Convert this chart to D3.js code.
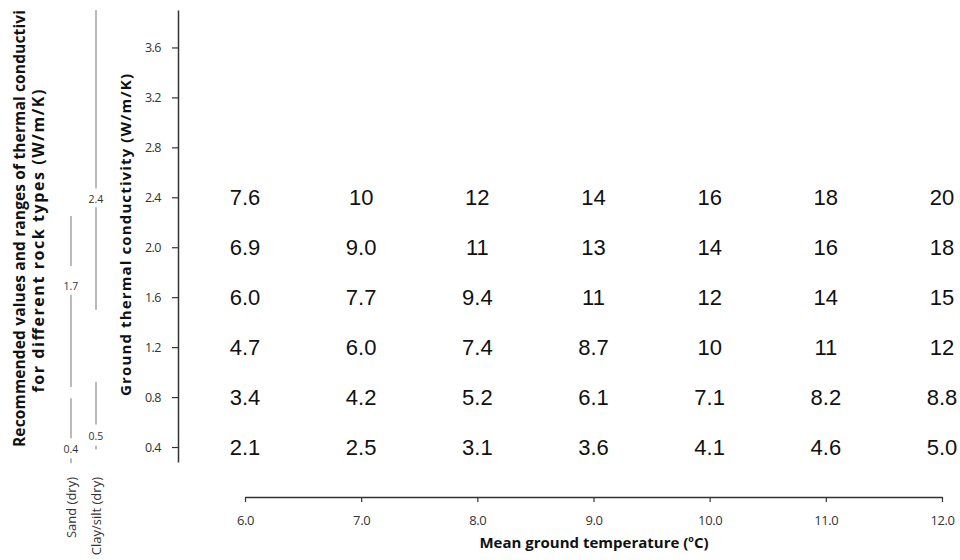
<!DOCTYPE html>
<html>
<head>
<meta charset="utf-8">
<script src="https://cdn.jsdelivr.net/npm/d3@7"></script>
<style>
	body { margin: 0; background: #fff; }
	text { font-family: 'Open Sans', sans-serif; }
</style>
</head>
<body>
<div id="chart"></div>
<script>
// mean ground temperature columns
var temperatures = [6.0, 7.0, 8.0, 9.0, 10.0, 11.0, 12.0];
// ground thermal conductivity rows
var conductivities = [2.4, 2.0, 1.6, 1.2, 0.8, 0.4];
// table values, one row per conductivity
var row24 = ['7.6', '10', '12', '14', '16', '18', '20'];
var row20 = ['6.9', '9.0', '11', '13', '14', '16', '18'];
var row16 = ['6.0', '7.7', '9.4', '11', '12', '14', '15'];
var row12 = ['4.7', '6.0', '7.4', '8.7', '10', '11', '12'];
var row08 = ['3.4', '4.2', '5.2', '6.1', '7.1', '8.2', '8.8'];
var row04 = ['2.1', '2.5', '3.1', '3.6', '4.1', '4.6', '5.0'];
var yTicks = [0.4, 0.8, 1.2, 1.6, 2.0, 2.4, 2.8, 3.2, 3.6];
var xTicks = [6, 7, 8, 9, 10, 11, 12];

// rock types on the left
var rockTypes = ['Sand (dry)', 'Clay/silt (dry)'];
var rockRecommended = [1.7, 2.4];
var rockMin = [0.4, 0.5];
// visible pieces of each range line (W/m/K)
var sandPieces = [[2.25, 1.85], [1.62, 0.88], [0.79, 0.47], [0.31, 0.27]];
var clayPieces = [[3.9, 2.47], [2.32, 1.5], [0.92, 0.58], [0.41, 0.38]];

var rows = [row24, row20, row16, row12, row08, row04];
var width = 960;
var height = 560;

var svg = d3.select('#chart').append('svg')
	.attr('width', width)
	.attr('height', height);

svg.append('rect').attr('width', width).attr('height', height).attr('fill', '#fff');

var x = d3.scaleLinear().domain([6, 12]).range([245, 942]);
var y = d3.scaleLinear().domain([0.28, 3.9]).range([462, 10]);

// Y axis
var yAxis = svg.append('g')
	.attr('transform', 'translate(178,0)')
	.call(d3.axisLeft(y).tickValues(yTicks).tickFormat(d3.format('.1f')).tickSize(6).tickSizeOuter(0));
yAxis.select('.domain').attr('stroke', '#333').attr('stroke-width', 1.5);
yAxis.selectAll('.tick line').attr('stroke', '#333').attr('stroke-width', 1.2);
yAxis.selectAll('text')
	.attr('font-family', 'Lato, sans-serif')
	.attr('font-size', '12.5px')
	.attr('letter-spacing', '-0.5px')
	.attr('fill', '#333')
	.attr('x', -17);

// X axis
var xAxis = svg.append('g')
	.attr('transform', 'translate(0,497)')
	.call(d3.axisBottom(x).tickValues(xTicks).tickFormat(d3.format('.1f')).tickSize(5).tickSizeOuter(0));
xAxis.select('.domain').attr('stroke', '#333').attr('stroke-width', 1.5);
xAxis.selectAll('.tick line').attr('stroke', '#333').attr('stroke-width', 1.2);
xAxis.selectAll('text')
	.attr('font-family', 'Lato, sans-serif')
	.attr('font-size', '13px')
	.attr('letter-spacing', '-0.4px')
	.attr('fill', '#333')
	.attr('y', 19);

// table numbers
rows.forEach(function (row, i) {
	svg.selectAll('.num' + i)
		.data(row)
		.enter()
		.append('text')
		.attr('x', function (d, j) { return x(temperatures[j]); })
		.attr('y', y(conductivities[i]))
		.attr('dy', '0.35em')
		.attr('text-anchor', 'middle')
		.style('font-family', "'Liberation Sans', Arial, sans-serif")
		.style('font-size', '22px')
		.attr('fill', '#111')
		.text(function (d) { return d; });
});

// axis titles
svg.append('text')
	.attr('transform', 'translate(131,235)rotate(-90)')
	.attr('text-anchor', 'middle')
	.attr('textLength', 322)
	.attr('lengthAdjust', 'spacing')
	.style('font-weight', 'bold')
	.style('font-size', '15px')
	.attr('fill', '#111')
	.text('Ground thermal conductivity (W/m/K)');

var xt = svg.append('text')
	.attr('x', 594)
	.attr('y', 548)
	.attr('text-anchor', 'middle')
	.style('font-weight', 'bold')
	.style('font-size', '15px')
	.attr('fill', '#111');
xt.append('tspan').text('Mean ground temperature (');
xt.append('tspan').attr('font-size', '9px').attr('dy', -6).text('o');
xt.append('tspan').attr('dy', 6).text('C)');

// left title
svg.append('text')
	.attr('transform', 'translate(25,447)rotate(-90)')
	.attr('text-anchor', 'start')
	.attr('textLength', 437)
	.attr('lengthAdjust', 'spacing')
	.style('font-weight', 'bold')
	.style('font-size', '15.5px')
	.attr('fill', '#111')
	.text('Recommended values and ranges of thermal conductivi');
svg.append('text')
	.attr('transform', 'translate(44,241)rotate(-90)')
	.attr('text-anchor', 'middle')
	.attr('textLength', 303)
	.attr('lengthAdjust', 'spacing')
	.style('font-weight', 'bold')
	.style('font-size', '16px')
	.attr('fill', '#111')
	.text('for different rock types (W/m/K)');

// rock type range lines
var rockX = [71, 96];
[sandPieces, clayPieces].forEach(function (pieces, i) {
	svg.selectAll('.piece' + i)
		.data(pieces)
		.enter()
		.append('line')
		.attr('x1', rockX[i])
		.attr('x2', rockX[i])
		.attr('y1', function (d) { return y(d[0]); })
		.attr('y2', function (d) { return y(d[1]); })
		.attr('stroke', '#aaa')
		.attr('stroke-width', 1.6);

	[rockRecommended[i], rockMin[i]].forEach(function (v) {
		svg.append('text')
			.attr('x', rockX[i])
			.attr('y', y(v) + 2)
			.attr('dy', '0.35em')
			.attr('text-anchor', 'middle')
			.style('font-size', '10.5px')
			.attr('fill', '#333')
			.text(v.toFixed(1));
	});

	svg.append('text')
		.attr('transform', 'translate(' + (rockX[i] + 5) + ',477)rotate(-90)')
		.attr('text-anchor', 'end')
		.style('font-size', '13px')
		.attr('fill', '#333')
		.text(rockTypes[i]);
});
</script>
</body>
</html>
